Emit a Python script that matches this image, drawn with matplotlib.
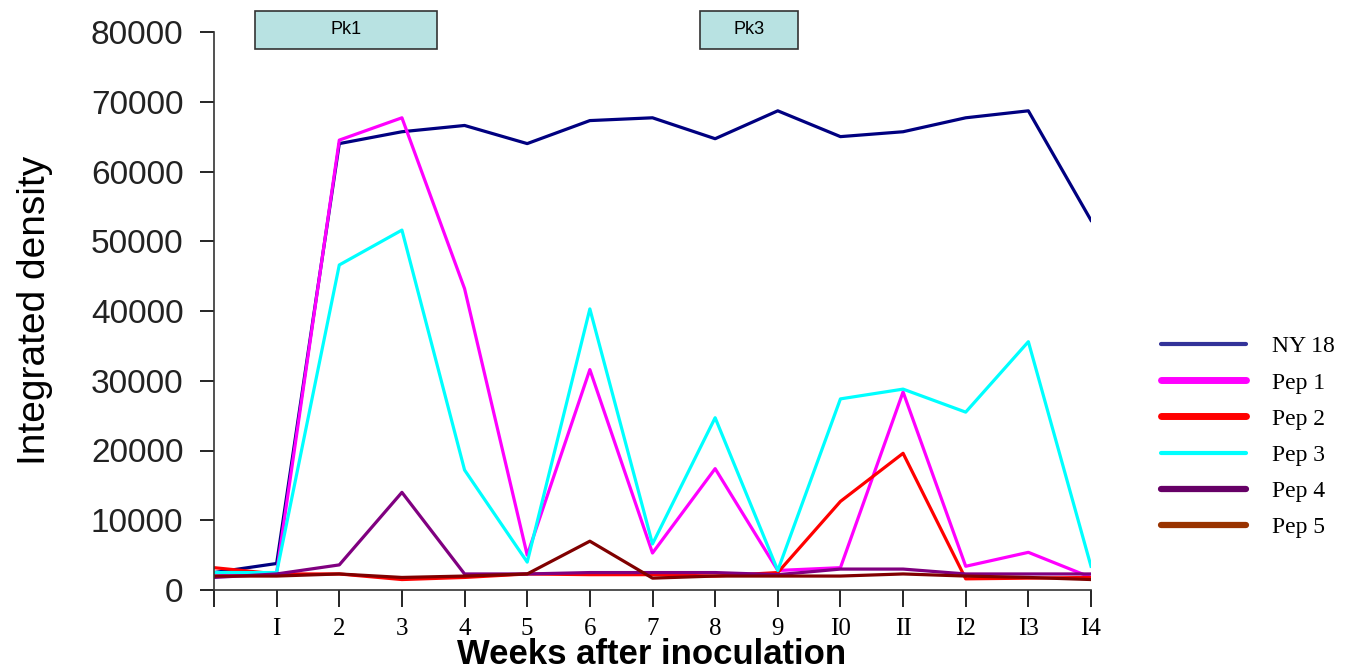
import numpy as np
import matplotlib.pyplot as plt
from matplotlib.lines import Line2D
from matplotlib.patches import Rectangle

# ===============================
# Data
# ===============================
weeks = np.arange(0, 15)
week_labels = ["", "I", "2", "3", "4", "5", "6", "7", "8", "9",
               "I0", "II", "I2", "I3", "I4"]

ny18 = [2500, 3800, 64000, 65700, 66600, 64000, 67300, 67700, 64700,
        68700, 65000, 65700, 67700, 68700, 53000]
pep1 = [2000, 2500, 64500, 67700, 43200, 5000, 31600, 5300, 17400,
        2800, 3200, 28400, 3400, 5400, 1800]
pep2 = [3200, 2300, 2300, 1500, 1800, 2300, 2200, 2200, 2000,
        2500, 12700, 19600, 1600, 1700, 1800]
pep3 = [2500, 2500, 46600, 51600, 17200, 4000, 40300, 6600, 24700,
        2800, 27400, 28800, 25500, 35600, 3400]
pep4 = [1800, 2300, 3600, 14000, 2300, 2300, 2500, 2500, 2500,
        2200, 3000, 3000, 2300, 2300, 2300]
pep5 = [2000, 2000, 2300, 1800, 2000, 2300, 7000, 1700, 2000,
        2000, 2000, 2300, 2000, 1800, 1500]

series = [
    ("NY 18", ny18, "#000080", "#333399", 3.0),
    ("Pep 1", pep1, "#FF00FF", "#FF00FF", 5.0),
    ("Pep 2", pep2, "#FF0000", "#FF0000", 5.0),
    ("Pep 3", pep3, "#00FFFF", "#00FFFF", 3.0),
    ("Pep 4", pep4, "#800080", "#660066", 4.5),
    ("Pep 5", pep5, "#800000", "#993300", 4.5),
]

# periods marked above the plot (start week, end week, label)
periods = [(0.65, 3.56, "Pk1"), (7.76, 9.32, "Pk3")]

# ===============================
# Plot
# ===============================
fig = plt.figure(figsize=(13.56, 6.69), dpi=100)
ax = fig.add_axes([214/1356, 1-590/669, (1091-214)/1356, (590-32)/669])

handles = []
for label, vals, color, lcolor, lw in series:
    ax.plot(weeks, vals, color=color, lw=2.3)
    handles.append(Line2D([], [], color=lcolor, lw=lw, solid_capstyle="round"))

ax.set_xlim(0, 14)
ax.set_ylim(0, 80000)
ax.set_yticks(np.arange(0, 80001, 10000))
ax.set_xticks(weeks)
ax.set_xticklabels(week_labels, family="Liberation Serif", fontsize=18)
ax.tick_params(axis="y", direction="out", length=10, width=1.2, pad=12,
               labelsize=24, labelcolor="#222222")
ax.tick_params(axis="x", direction="out", length=12, width=1.2, pad=8)
for lab in ax.get_yticklabels():
    lab.set_family("Liberation Sans")

ax.spines["top"].set_visible(False)
ax.spines["right"].set_visible(False)
for s in ["left", "bottom"]:
    ax.spines[s].set_linewidth(1.2)
    ax.spines[s].set_color("#333333")

fig.text(35/1356, 1-310/669, "Integrated density", family="Liberation Sans",
         fontsize=28, rotation=90, ha="center", va="center")
fig.text(652/1356, 1-655/669, "Weeks after inoculation",
         family="Liberation Sans", fontsize=25, fontweight="bold",
         ha="center", va="center")

# boxes above the axes
for x0, x1, txt in periods:
    ax.add_patch(Rectangle((x0, 77600), x1 - x0, 5400, facecolor="#b8e2e2",
                           edgecolor="#333333", lw=1.2, clip_on=False))
    ax.text((x0 + x1) / 2, 80300, txt, ha="center", va="center",
            family="Liberation Sans", fontsize=13, clip_on=False)

fig.legend(handles, [s[0] for s in series], loc="center left",
           bbox_to_anchor=(1140/1356, 1-437/669), frameon=False,
           prop={"family": "Liberation Serif", "size": 17},
           handlelength=3.6, handletextpad=1.1, labelspacing=0.62)

fig.savefig("out.png", dpi=100)
